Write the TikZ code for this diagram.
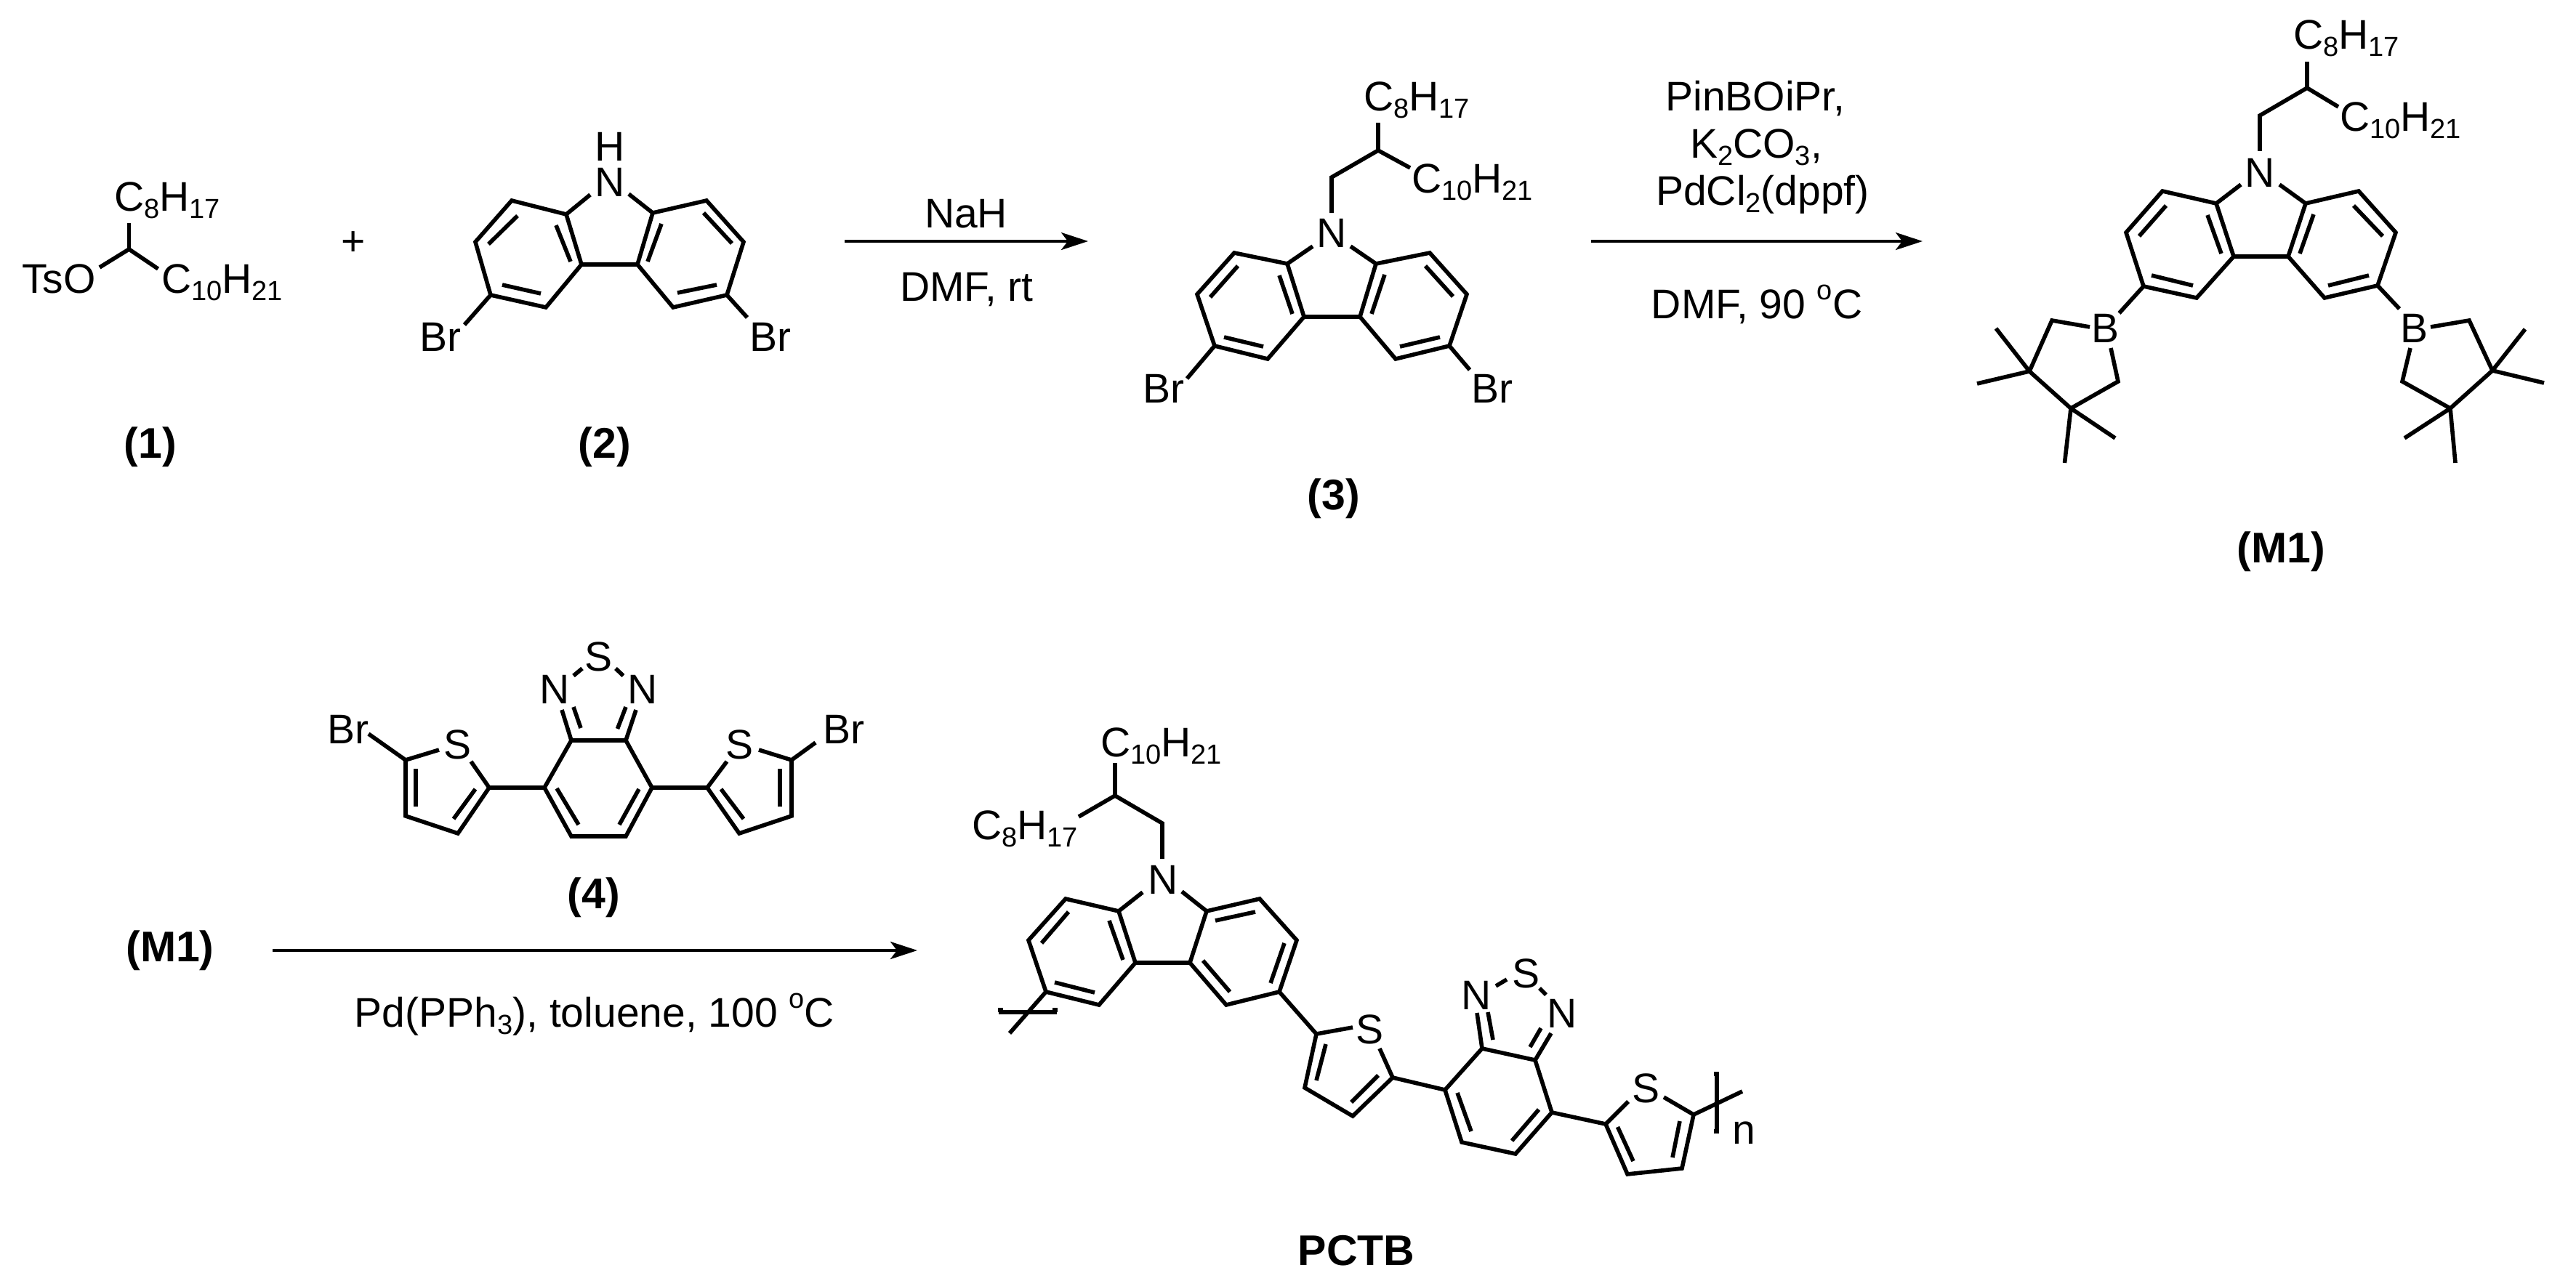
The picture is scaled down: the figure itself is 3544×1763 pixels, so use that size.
\documentclass[tikz,border=0pt]{standalone}
\usepackage{fontspec}
\setmainfont{Liberation Sans}
\usetikzlibrary{arrows.meta}
\newcommand{\subn}[1]{\raisebox{-10pt}{\fontsize{38}{38}\selectfont #1}}
\newcommand{\supo}{\raisebox{26pt}{\fontsize{38}{38}\selectfont o}}
\tikzset{
  bond/.style={line width=5.6pt,line join=miter,line cap=butt,black},
  rxn/.style={line width=4pt,black,-{Stealth[length=37pt,width=24pt,inset=9pt]}},
  atom/.style={inner sep=0pt,outer sep=0pt,font=\fontsize{57}{62}\selectfont,text=black},
  cmpd/.style={inner sep=0pt,outer sep=0pt,font=\fontsize{59}{64}\selectfont\bfseries,text=black,anchor=base},
  cond/.style={inner sep=0pt,outer sep=0pt,font=\fontsize{57}{62}\selectfont,text=black,anchor=base},
}
\begin{document}
\begin{tikzpicture}[x=1pt,y=-1pt]
\useasboundingbox (0,0) rectangle (3544,1763);
\fill[white] (0,0) rectangle (3544,1763);

% ---------- compound 1
\node[atom,anchor=base west] (c1a) at (157,290) {C\subn{8}H\subn{17}};
\node[atom,anchor=base west] (c1b) at (30,403) {TsO};
\node[atom,anchor=base west] (c1c) at (222,403) {C\subn{10}H\subn{21}};
\draw[bond] (177.5,307) -- (177.5,343);
\draw[bond] (137,368) -- (177.5,343) -- (217.5,370);
\node[cond] (plus) at (486,351) {+};
\node[cmpd] (l1) at (207,630) {(1)};

% ---------- compound 2
\node[atom,anchor=base] (c2h) at (839,222) {H};
\node[atom,anchor=base] (c2n) at (839,270) {N};
\node[atom,anchor=base west] (c2bl) at (577,483) {Br};
\node[atom,anchor=base west] (c2br) at (1031,483) {Br};
\draw[bond] (812,268) -- (779,295) -- (704,276) -- (654,333) -- (675,406) -- (751,423) -- (800,364) -- (779,295);
\draw[bond] (865,267) -- (898,293) -- (972,276) -- (1023,333) -- (1000,406) -- (926,423) -- (877,364) -- (898,293);
\draw[bond] (800,364) -- (877,364);
\draw[bond] (675,406) -- (639,447);
\draw[bond] (1000,406) -- (1028,437);
\draw[bond] (712,297) -- (672,336) (765,310) -- (785,360) (691,392) -- (744,404);
\draw[bond] (968,293) -- (1007,335) (910,308) -- (891,360) (986,392) -- (932,403);
\node[cmpd] (l2) at (832,630) {(2)};

% ---------- arrow 1
\coordinate (a1s) at (1162,332);
\coordinate (a1e) at (1497,332);
\draw[rxn] (a1s) -- (a1e);
\node[cond] (nah) at (1329,313) {NaH};
\node[cond] (dmf1) at (1330,414) {DMF, rt};

% ---------- compound 3
\node[atom,anchor=base] (c3n) at (1832,340) {N};
\node[atom,anchor=base west] (c3a) at (1876,153) {C\subn{8}H\subn{17}};
\node[atom,anchor=base west] (c3b) at (1942,265) {C\subn{10}H\subn{21}};
\node[atom,anchor=base west] (c3bl) at (1572,554) {Br};
\node[atom,anchor=base west] (c3br) at (2024,554) {Br};
\draw[bond] (1832,293) -- (1832,244) -- (1896,207) -- (1896,169);
\draw[bond] (1896,207) -- (1940,231);
\draw[bond] (1806,339) -- (1771,363) -- (1698,348) -- (1647,405) -- (1671,476) -- (1744,494) -- (1794,436) -- (1771,363);
\draw[bond] (1858,339) -- (1893,363) -- (1967,348) -- (2018,405) -- (1994,476) -- (1920,494) -- (1871,436) -- (1893,363);
\draw[bond] (1794,436) -- (1871,436);
\draw[bond] (1671,476) -- (1633,521);
\draw[bond] (1994,476) -- (2022,509);
\draw[bond] (1703,366) -- (1665,409) (1760,379) -- (1778,432) (1684,464) -- (1738,477);
\draw[bond] (1961,366) -- (1999,408) (1905,378) -- (1887,432) (1981,464) -- (1926,477);
\node[cmpd] (l3) at (1835,701) {(3)};

% ---------- arrow 2
\coordinate (a2s) at (2189,332);
\coordinate (a2e) at (2645,332);
\draw[rxn] (a2s) -- (a2e);
\node[cond] (r1) at (2415,153) {PinBOiPr,};
\node[cond] (r2) at (2416,218) {K\subn{2}CO\subn{3},};
\node[cond] (r3) at (2425,282) {PdCl\subn{2}(dppf)};
\node[cond] (r4) at (2417,438) {DMF, 90 \supo C};

% ---------- M1
\node[atom,anchor=base] (m1n) at (3109,257) {N};
\node[atom,anchor=base west] (m1a) at (3155,68) {C\subn{8}H\subn{17}};
\node[atom,anchor=base west] (m1b) at (3219,181) {C\subn{10}H\subn{21}};
\node[atom,anchor=base] (m1bl) at (2896,471) {B};
\node[atom,anchor=base] (m1br) at (3321,471) {B};
\draw[bond] (3109,208) -- (3109,159) -- (3174,121) -- (3174,85);
\draw[bond] (3174,121) -- (3217,147);
\draw[bond] (3083,254) -- (3049,280) -- (2975,263) -- (2925,320) -- (2949,394) -- (3022,410) -- (3073,353) -- (3049,280);
\draw[bond] (3136,254) -- (3172,280) -- (3245,263) -- (3296,320) -- (3271,393) -- (3198,410) -- (3148,353) -- (3172,280);
\draw[bond] (3073,353) -- (3148,353);
\draw[bond] (2980,283) -- (2943,325) (3037,296) -- (3056,349) (2960,379) -- (3017,393);
\draw[bond] (3238,283) -- (3278,325) (3183,295) -- (3164,349) (3259,379) -- (3203,393);
\draw[bond] (2949,394) -- (2915.5,431);
\draw[bond] (3271,393) -- (3301,425);
\draw[bond] (2875,450) -- (2823,441) -- (2792,511) -- (2849,562) -- (2914,525) -- (2904,479);
\draw[bond] (2792,511) -- (2746,452) (2792,511) -- (2720,528);
\draw[bond] (2849,562) -- (2840.5,637) (2849,562) -- (2910,603);
\draw[bond] (3344,450) -- (3397,441) -- (3429,510) -- (3371,562) -- (3305,525) -- (3316,479);
\draw[bond] (3429,510) -- (3474,453) (3429,510) -- (3500,527);
\draw[bond] (3371,562) -- (3308,603) (3371,562) -- (3378,637);
\node[cmpd] (lm1) at (3138,774) {(M1)};

% ---------- lower scheme
\node[cmpd] (lm1b) at (234,1323) {(M1)};
\coordinate (a3s) at (375,1308);
\coordinate (a3e) at (1262,1308);
\draw[rxn] (a3s) -- (a3e);
\node[cond] (r5) at (818,1413) {Pd(PPh\subn{3}), toluene, 100 \supo C};

% ---------- compound 4
\node[atom,anchor=base] (c4s) at (823,923) {S};
\node[atom,anchor=base] (c4nl) at (763,968) {N};
\node[atom,anchor=base] (c4nr) at (884,968) {N};
\node[atom,anchor=base] (c4sl) at (630,1044) {S};
\node[atom,anchor=base] (c4sr) at (1017,1044) {S};
\node[atom,anchor=base west] (c4bl) at (450,1023) {Br};
\node[atom,anchor=base west] (c4br) at (1132,1023) {Br};
\draw[bond] (786,1019) -- (861,1019) -- (897,1084) -- (861,1151) -- (786,1151) -- (749,1084) -- cycle;
\draw[bond] (766,1085) -- (796,1135) (879,1086) -- (852,1135);
\draw[bond] (786,1019) -- (773,977) (799,1002) -- (789,973);
\draw[bond] (861,1019) -- (875,977) (849.5,1003) -- (861,973);
\draw[bond] (801,920) -- (789,930) (847,920) -- (857.5,930);
\draw[bond] (749,1084) -- (673,1084);
\draw[bond] (648,1048) -- (673,1084) -- (630,1147) -- (558,1123) -- (558,1046) -- (604,1032);
\draw[bond] (572,1058) -- (572,1110) (654,1086) -- (624,1127);
\draw[bond] (558,1046) -- (507,1010);
\draw[bond] (897,1084) -- (973,1084);
\draw[bond] (1000,1048) -- (973,1084) -- (1017,1147) -- (1089,1123) -- (1089,1046) -- (1044,1032);
\draw[bond] (1073,1058) -- (1073,1110) (992,1086) -- (1023,1127);
\draw[bond] (1089,1046) -- (1122,1022);
\node[cmpd] (l4) at (817,1250) {(4)};

% ---------- PCTB
\node[atom,anchor=base] (pn) at (1600,1230) {N};
\node[atom,anchor=base west] (pa) at (1514,1041) {C\subn{10}H\subn{21}};
\node[atom,anchor=base west] (pb) at (1337,1155) {C\subn{8}H\subn{17}};
\node[atom,anchor=base] (ps1) at (1884,1436) {S};
\node[atom,anchor=base] (pn1) at (2031,1389) {N};
\node[atom,anchor=base] (pn2) at (2149,1414) {N};
\node[atom,anchor=base] (ps2) at (2099,1359) {S};
\node[atom,anchor=base] (ps3) at (2264,1517) {S};
\node[atom,anchor=base] (pnn) at (2399,1574) {n};
\draw[bond] (1534,1050) -- (1534,1095);
\draw[bond] (1484,1124) -- (1534,1095) -- (1599,1133) -- (1599,1182);
\draw[bond] (1572,1228) -- (1539,1254) -- (1466,1237) -- (1415,1294) -- (1439,1365) -- (1512,1383) -- (1562,1325) -- (1539,1254);
\draw[bond] (1626,1227) -- (1660,1254) -- (1733,1237) -- (1784,1294) -- (1760,1365) -- (1687,1383) -- (1637,1325) -- (1660,1254);
\draw[bond] (1562,1325) -- (1637,1325);
\draw[bond] (1470,1255) -- (1433,1298) (1526,1267) -- (1545,1321) (1451,1352) -- (1506,1366);
\draw[bond] (1672,1267) -- (1727,1255) (1767,1298) -- (1748,1353) (1655,1322) -- (1692,1365);
\draw[bond] (1439,1365) -- (1389,1422);
\draw[bond] (1373,1390) -- (1377,1390) -- (1377,1393) -- (1451,1393) -- (1451,1390) -- (1455,1390);
\draw[bond] (1760,1365) -- (1811,1423);
\draw[bond] (1861,1414) -- (1811,1423) -- (1795,1497) -- (1861,1536) -- (1916,1483) -- (1898,1443);
\draw[bond] (1824,1437) -- (1811,1487) (1896,1480) -- (1859,1517);
\draw[bond] (1916,1483) -- (1988,1500);
\draw[bond] (1988,1500) -- (2039,1443) -- (2112,1459) -- (2135,1531) -- (2085,1588) -- (2011,1572) -- cycle;
\draw[bond] (2005,1504) -- (2024,1557) (2117,1527) -- (2080,1570);
\draw[bond] (2039,1443) -- (2032,1394) (2054,1431) -- (2047,1393);
\draw[bond] (2112,1459) -- (2134,1422) (2105,1441) -- (2120,1415);
\draw[bond] (2058,1357) -- (2073,1348) (2118,1360) -- (2127,1369);
\draw[bond] (2135,1531) -- (2209,1547);
\draw[bond] (2240,1516) -- (2209,1547) -- (2239,1616) -- (2314,1608) -- (2330,1534) -- (2289,1510);
\draw[bond] (2225.5,1551) -- (2247,1598) (2311,1543) -- (2301,1593);
\draw[bond] (2330,1534) -- (2397,1502);
\draw[bond] (2358,1478) -- (2362,1478) -- (2362,1557) -- (2358,1557);
\node[cmpd] (pctb) at (1866,1741) {PCTB};
\end{tikzpicture}
\end{document}
